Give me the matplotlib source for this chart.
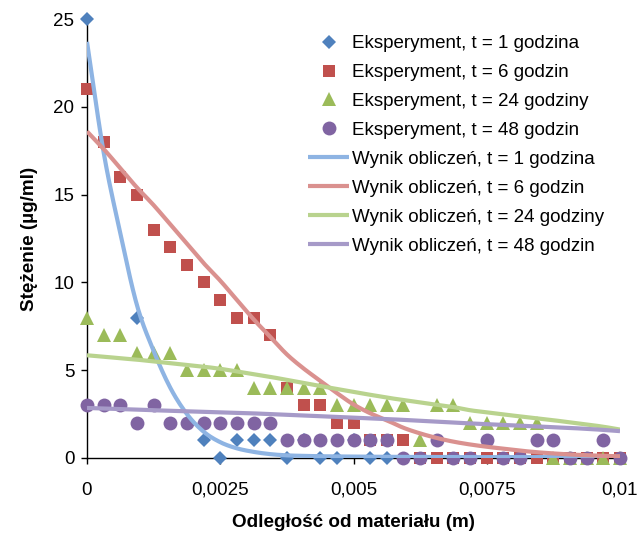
import numpy as np
import matplotlib
matplotlib.use("Agg")
import matplotlib.pyplot as plt
from matplotlib.ticker import FixedLocator, FuncFormatter

plt.rcParams['font.family'] = ['Liberation Sans', 'DejaVu Sans']

nan = np.nan

# Sampling grid: distance from the material surface (m)
odleglosc = np.linspace(0.0, 0.01, 33)

# Measured concentrations (µg/ml); NaN where no point was recorded
eksp_1h = [25, nan, nan, 8, nan, nan, nan, 1, 0, 1, 1, 1, 0, 1, 0, 0, 1, 0, 0,
           nan, nan, nan, nan, nan, nan, nan, nan, nan, nan, nan, nan, nan, nan]
eksp_6h = [21, 18, 16, 15, 13, 12, 11, 10, 9, 8, 8, 7, 4, 3, 3, 2, 2, 1, 1, 1,
           0, 0, 0, 0, 0, 0, 0, 0, 0, 0, 0, 0, 0]
eksp_24h = [8, 7, 7, 6, 6, 6, 5, 5, 5, 5, 4, 4, 4, 4, 4, 3, 3, 3, 3, 3,
            1, 3, 3, 2, 2, 2, 2, 2, 0, 0, 0, 0, 0]
eksp_48h = [3, 3, 3, 2, 3, 2, 2, 2, 2, 2, 2, 2, 1, 1, 1, 1, 1, 1, 1, 0,
            0, 1, 0, 0, 1, 0, 0, 1, 1, 0, 0, 1, 0]

# Model results (µg/ml)
obl_1h = [23.7, 17.4, 12.8, 8.7, 6.1, 4.0, 2.5, 1.5, 0.9, 0.55, 0.35, 0.22,
          0.15, 0.12, 0.10, 0.09, 0.08, 0.07, 0.07, 0.06, 0.06, 0.06, 0.05,
          0.05, 0.05, 0.05, 0.05, 0.05, 0.05, 0.05, 0.05, 0.05, 0.05]
obl_6h = [18.6, 17.6, 16.5, 15.4, 14.4, 13.3, 12.2, 11.1, 10.1, 9.0, 7.9, 6.9,
          5.9, 5.1, 4.4, 3.7, 3.05, 2.55, 2.15, 1.72, 1.4, 1.14, 0.93, 0.77,
          0.64, 0.53, 0.42, 0.33, 0.26, 0.2, 0.16, 0.12, 0.1]
obl_24h = [5.85, 5.77, 5.68, 5.6, 5.5, 5.4, 5.3, 5.2, 5.08, 4.93, 4.78, 4.62,
           4.45, 4.28, 4.1, 3.93, 3.76, 3.6, 3.44, 3.3, 3.16, 3.03, 2.9, 2.72,
           2.6, 2.48, 2.37, 2.26, 2.15, 2.03, 1.91, 1.78, 1.62]
obl_48h = [2.85, 2.82, 2.79, 2.76, 2.72, 2.69, 2.66, 2.63, 2.6, 2.57, 2.54,
           2.5, 2.46, 2.42, 2.38, 2.34, 2.3, 2.26, 2.22, 2.17, 2.12, 2.07, 2.02,
           1.97, 1.93, 1.88, 1.84, 1.8, 1.75, 1.71, 1.66, 1.6, 1.53]

etykiety_eksp = ["Eksperyment, t = 1 godzina", "Eksperyment, t = 6 godzin",
                 "Eksperyment, t = 24 godziny", "Eksperyment, t = 48 godzin"]
etykiety_obl = ["Wynik obliczeń, t = 1 godzina", "Wynik obliczeń, t = 6 godzin",
                "Wynik obliczeń, t = 24 godziny", "Wynik obliczeń, t = 48 godzin"]

x_ticks = [0, 0.0025, 0.005, 0.0075, 0.01]
y_ticks = [0, 5, 10, 15, 20, 25]

kolory_pkt = ['#4F81BD', '#C0504D', '#9BBB59', '#8064A2']
kolory_lin = ['#8EB4E3', '#DA918F', '#B9D38E', '#A69AC8']
markery = [('D', 7.0), ('s', 9.2), ('^', 9.8), ('o', 10.0)]


def wygladz(x, y, n=12):
    """Smooth polyline through the points (Catmull-Rom, like a spreadsheet's
    'smoothed line' option)."""
    x = np.asarray(x, float)
    y = np.asarray(y, float)
    p = np.column_stack([x, y])
    p = np.vstack([p[0] - (p[1] - p[0]), p, p[-1] + (p[-1] - p[-2])])
    t = np.linspace(0, 1, n, endpoint=False)[:, None]
    out = []
    for i in range(1, len(p) - 2):
        p0, p1, p2, p3 = p[i - 1], p[i], p[i + 1], p[i + 2]
        seg = 0.5 * ((2 * p1) + (-p0 + p2) * t
                     + (2 * p0 - 5 * p1 + 4 * p2 - p3) * t ** 2
                     + (-p0 + 3 * p1 - 3 * p2 + p3) * t ** 3)
        out.append(seg)
    out.append(p[-2][None, :])
    out = np.vstack(out)
    return out[:, 0], out[:, 1]


fig = plt.figure(figsize=(6.38, 5.33), dpi=100)
ax = fig.add_axes([87 / 638, 1 - 458 / 533, 533 / 638, 439 / 533])

uchwyty = []
for dane, kol, (m, ms), lab in zip([eksp_1h, eksp_6h, eksp_24h, eksp_48h],
                                   kolory_pkt, markery, etykiety_eksp):
    h, = ax.plot(odleglosc, dane, linestyle='none', marker=m, markersize=ms,
                 color=kol, markeredgewidth=0, clip_on=False, zorder=3,
                 label=lab)
    uchwyty.append(h)

for dane, kol, lab in zip([obl_1h, obl_6h, obl_24h, obl_48h],
                          kolory_lin, etykiety_obl):
    xs, ys = wygladz(odleglosc, dane)
    h, = ax.plot(xs, ys, color=kol, linewidth=3.0, zorder=4,
                 solid_capstyle='butt', label=lab)
    uchwyty.append(h)

ax.set_xlim(0, 0.01)
ax.set_ylim(0, 25)
ax.xaxis.set_major_locator(FixedLocator(x_ticks))
ax.yaxis.set_major_locator(FixedLocator(y_ticks))
ax.xaxis.set_major_formatter(FuncFormatter(
    lambda v, p: ('%g' % v).replace('.', ',')))

for s in ['top', 'right']:
    ax.spines[s].set_visible(False)
for s in ['left', 'bottom']:
    ax.spines[s].set_color('black')
    ax.spines[s].set_linewidth(1.0)
    ax.spines[s].set_zorder(2)

ax.tick_params(axis='both', direction='out', length=4, width=1,
               labelsize=13.5, colors='black')
ax.tick_params(axis='x', pad=13)
ax.tick_params(axis='y', pad=5)

ax.set_xlabel("Odległość od materiału (m)", fontsize=13.6, fontweight='bold',
              labelpad=11)
ax.set_ylabel("Stężenie (µg/ml)", fontsize=13.6, fontweight='bold',
              labelpad=11)

ax.legend(handles=uchwyty, loc='upper left',
          bbox_to_anchor=(308 / 638, 1 - 35 / 533),
          bbox_transform=fig.transFigure, frameon=False, fontsize=13.5,
          numpoints=1, handlelength=2.2, handletextpad=0.15,
          labelspacing=0.63, borderpad=0, borderaxespad=0)

fig.savefig("out.png", dpi=100)
